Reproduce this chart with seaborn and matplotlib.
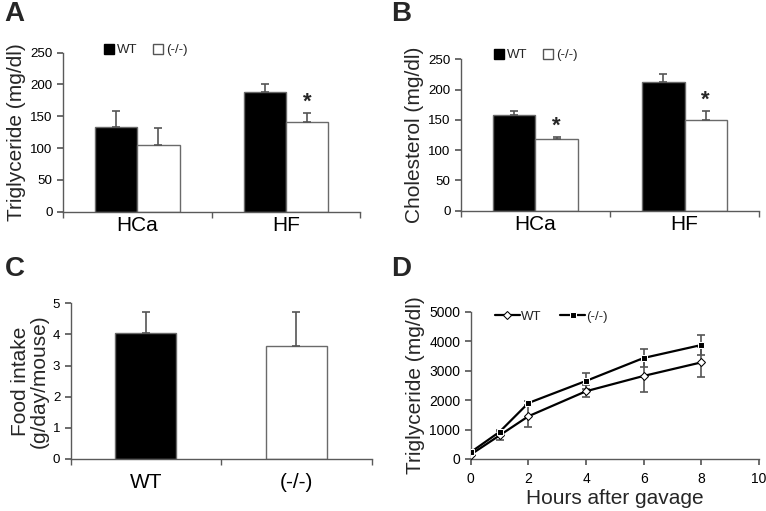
"""Four-panel lipid / food intake figure (A-D)."""

import matplotlib

matplotlib.use("Agg")
import matplotlib.pyplot as plt
import numpy as np
import pandas as pd
import seaborn as sns

# --- data -----------------------------------------------------------------
diets = ["HCa", "HF"]
genotypes = ["WT", "(-/-)"]

tg_mean = {"WT": [133, 188], "(-/-)": [105, 141]}
tg_err = {"WT": [25, 13], "(-/-)": [27, 14]}

chol_mean = {"WT": [158, 212], "(-/-)": [118, 150]}
chol_err = {"WT": [6, 13], "(-/-)": [3, 14]}

food_groups = ["WT", "(-/-)"]
food_mean = [4.03, 3.62]
food_err = [0.70, 1.10]

hours = [0, 1, 2, 4, 6, 8]
gavage_wt = [150, 800, 1450, 2300, 2820, 3280]
gavage_wt_err = [60, 150, 370, 200, 550, 510]
gavage_ko = [230, 920, 1900, 2650, 3430, 3870]
gavage_ko_err = [40, 60, 60, 260, 300, 350]

SPINE = "#5a5a5a"
ERR = "#555555"
FONT = ["Liberation Sans", "DejaVu Sans"]
LABEL_SIZE = 15
TICK_SIZE = 9.6


def setup_style():
    sns.set_theme(style="ticks")
    plt.rcParams.update(
        {
            "font.family": FONT,
            "axes.edgecolor": SPINE,
            "axes.linewidth": 1.0,
            "xtick.color": SPINE,
            "ytick.color": SPINE,
            "xtick.labelcolor": "black",
            "ytick.labelcolor": "black",
            "ytick.labelsize": TICK_SIZE,
            "xtick.labelsize": TICK_SIZE,
            "ytick.major.size": 4,
            "xtick.major.size": 4,
        }
    )


def category_axis(ax, n, pad):
    # Excel-style: labels centred, tick marks between the categories
    ax.set_xlim(-0.5, n - 0.5)
    ax.set_xticks(range(n))
    ax.tick_params(axis="x", which="major", length=0, labelsize=LABEL_SIZE, pad=pad)
    ax.set_xticks(np.arange(-0.5, n, 1.0), minor=True)
    ax.tick_params(axis="x", which="minor", length=4, color=SPINE)
    ax.set_xlabel("")
    sns.despine(ax=ax)


def up_errors(ax, xs, tops, errs):
    ax.errorbar(xs, tops, yerr=[[0] * len(errs), errs], fmt="none",
                ecolor=ERR, elinewidth=1.2, capsize=2.8, capthick=1.2)


def grouped_bars(ax, means, errs, ylabel, stars, legend_xy):
    df = pd.DataFrame(
        [(d, g, means[g][i]) for g in genotypes for i, d in enumerate(diets)],
        columns=["diet", "genotype", "value"],
    )
    sns.barplot(
        data=df, x="diet", y="value", hue="genotype", order=diets,
        hue_order=genotypes, palette={"WT": "black", "(-/-)": "white"},
        edgecolor="#6a6a6a", linewidth=1.0, width=0.57, errorbar=None,
        saturation=1, ax=ax, legend=False,
    )
    bars = [p for p in ax.patches if p.get_height() > 0]
    k = 0
    for g in genotypes:
        for i in range(len(diets)):
            p = bars[k]
            k += 1
            xc = p.get_x() + p.get_width() / 2
            top = means[g][i]
            up_errors(ax, [xc], [top], [errs[g][i]])
            if (g, diets[i]) in stars:
                ax.text(xc, top + errs[g][i] + 1, "*", ha="center", va="bottom",
                        fontsize=16, fontweight="bold")
    ax.set_ylim(0, 250)
    ax.set_yticks(range(0, 251, 50))
    ax.set_ylabel(ylabel, fontsize=LABEL_SIZE, labelpad=3)
    category_axis(ax, len(diets), pad=3)
    handles = [
        plt.Rectangle((0, 0), 1, 1, fc="black", ec="black"),
        plt.Rectangle((0, 0), 1, 1, fc="white", ec="#555555"),
    ]
    ax.legend(handles, genotypes, loc="upper left", bbox_to_anchor=legend_xy,
              ncol=2, frameon=False, fontsize=9.5, handlelength=0.75,
              handleheight=0.75, handletextpad=0.25, columnspacing=1.2)


setup_style()
fig = plt.figure(figsize=(7.66, 5.11), dpi=100)
axA = fig.add_axes([0.0822, 0.5857, 0.388, 0.3112])
axB = fig.add_axes([0.6018, 0.5877, 0.3891, 0.2963])
axC = fig.add_axes([0.0923, 0.1018, 0.3929, 0.3047])
axD = fig.add_axes([0.6145, 0.1018, 0.3764, 0.2882])

grouped_bars(axA, tg_mean, tg_err, "Triglyceride (mg/dl)", {("(-/-)", "HF")},
             (0.097, 1.13))
grouped_bars(axB, chol_mean, chol_err, "Cholesterol (mg/dl)",
             {("(-/-)", "HCa"), ("(-/-)", "HF")}, (0.07, 1.146))

# panel C
food = pd.DataFrame({"group": food_groups, "value": food_mean})
sns.barplot(data=food, x="group", y="value", hue="group", order=food_groups,
            palette={"WT": "black", "(-/-)": "white"}, edgecolor="#6a6a6a",
            linewidth=1.0, width=0.405, errorbar=None, saturation=1,
            ax=axC, legend=False)
food_bars = [p for p in axC.patches if p.get_height() > 0]
up_errors(axC, [p.get_x() + p.get_width() / 2 for p in food_bars], food_mean, food_err)
axC.set_ylim(0, 5)
axC.set_yticks(range(0, 6))
axC.set_ylabel("Food intake\n(g/day/mouse)", fontsize=LABEL_SIZE, linespacing=0.95,
               labelpad=3)
category_axis(axC, len(food_groups), pad=10)

# panel D
gav = pd.DataFrame({
    "hours": hours * 2,
    "tg": gavage_wt + gavage_ko,
    "genotype": ["WT"] * len(hours) + ["(-/-)"] * len(hours),
})
for y, e in [(gavage_wt, gavage_wt_err), (gavage_ko, gavage_ko_err)]:
    axD.errorbar(hours, y, yerr=e, fmt="none", ecolor=ERR, elinewidth=1.2,
                 capsize=2.8, capthick=1.2, zorder=1)
sns.lineplot(data=gav, x="hours", y="tg", hue="genotype", style="genotype",
             hue_order=genotypes, style_order=genotypes,
             palette={"WT": "black", "(-/-)": "black"},
             markers={"WT": "D", "(-/-)": "s"}, dashes=False, linewidth=1.6,
             markersize=5, ax=axD, legend=False, zorder=3)
wt_line, ko_line = axD.lines[-2], axD.lines[-1]
wt_line.set_markerfacecolor("white")
wt_line.set_markeredgecolor("black")
wt_line.set_markersize(4.5)
axD.set_xlim(0, 10)
axD.set_ylim(0, 5000)
axD.set_xticks(range(0, 11, 2))
axD.set_yticks(range(0, 5001, 1000))
axD.tick_params(labelsize=10)
axD.tick_params(axis="x", pad=5.5)
axD.set_xlabel("Hours after gavage", fontsize=LABEL_SIZE, labelpad=2)
axD.set_ylabel("Triglyceride (mg/dl)", fontsize=LABEL_SIZE, labelpad=3)
sns.despine(ax=axD)
axD.legend([wt_line, ko_line], genotypes, loc="upper left",
           bbox_to_anchor=(0.042, 1.09), ncol=2, frameon=False, fontsize=9.5,
           handlelength=1.9, handletextpad=0.1, columnspacing=1.4,
           markerscale=0.85)

for letter, (x, y) in [("A", (0.006, 0.998)), ("B", (0.51, 0.998)),
                       ("C", (0.006, 0.5)), ("D", (0.51, 0.5))]:
    fig.text(x, y, letter, fontsize=20, fontweight="bold", va="top", ha="left")

fig.savefig("out.png", dpi=100)
